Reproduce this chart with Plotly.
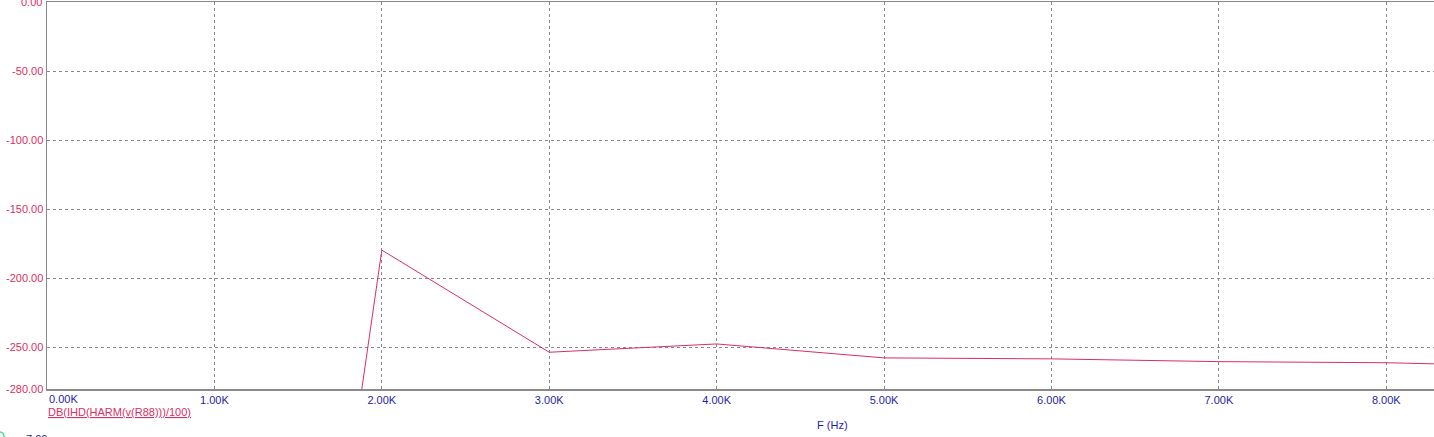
import plotly.graph_objects as go

# Data
freq_hz = [1000, 2000, 3000, 4000, 5000, 6000, 7000, 8000, 9000]
ihd_db = [-1020.0, -179.5, -253.4, -247.4, -257.5, -258.2, -260.2, -261.0, -263.8]

x_tick_vals = [0, 1000, 2000, 3000, 4000, 5000, 6000, 7000, 8000]
x_tick_text = ["0.00K", "1.00K", "2.00K", "3.00K", "4.00K", "5.00K", "6.00K", "7.00K", "8.00K"]
y_tick_vals = [0, -50, -100, -150, -200, -250, -280]
y_tick_text = ["0.00", "-50.00", "-100.00", "-150.00", "-200.00", "-250.00", "-280.00"]

trace_name = "DB(IHD(HARM(v(R88)))/100)"
x_title = "F (Hz)"

RED = "#D9305F"
BLUE = "#1E1EA8"
GRID = "#8A8A8A"
FONT = "Liberation Sans, Arial, sans-serif"

fig = go.Figure()
fig.add_trace(go.Scatter(x=freq_hz, y=ihd_db, mode="lines",
                         line=dict(color=RED, width=1), showlegend=False,
                         hoverinfo="skip"))

W, H = 1434, 437
ML, MR, MT, MB = 47, 0, 2, 48

fig.update_layout(
    width=W, height=H,
    margin=dict(l=ML, r=MR, t=MT, b=MB, pad=0, autoexpand=False),
    paper_bgcolor="white", plot_bgcolor="white",
    font=dict(family=FONT, size=11),
    xaxis=dict(range=[0, 8285], tickvals=x_tick_vals,
               ticktext=[""] + x_tick_text[1:],
               tickfont=dict(color=BLUE, size=11, family=FONT),
               showgrid=True, gridcolor=GRID, griddash="3px,3px", gridwidth=1,
               showline=True, linecolor=GRID, linewidth=1.5, mirror=True,
               zeroline=False, ticks="", ticklen=0, fixedrange=True,
               automargin=False),
    yaxis=dict(range=[-280, 0], tickvals=y_tick_vals,
               ticktext=[""] + y_tick_text[1:],
               tickfont=dict(color=RED, size=11, family=FONT),
               showgrid=True, gridcolor=GRID, griddash="3px,3px", gridwidth=1,
               showline=True, linecolor=GRID, linewidth=1.5,
               zeroline=False, ticks="", ticklen=0, fixedrange=True,
               automargin=False),
)

plot_w = W - ML - MR
plot_h = H - MT - MB

def px_x(px):
    return (px - ML) / plot_w

def px_y(py):
    return 1 - (py - MT) / plot_h

# top y tick label (partly cut off at the top edge, as in the reference)
fig.add_annotation(x=px_x(44), xref="paper", y=y_tick_vals[0], yref="y",
                   text=y_tick_text[0], showarrow=False, xanchor="right", yanchor="middle",
                   font=dict(color=RED, size=11, family=FONT))

# first x tick label is left-aligned at the axis start
fig.add_annotation(x=x_tick_vals[0], xref="x", y=px_y(391), yref="paper",
                   text=x_tick_text[0], showarrow=False, xanchor="left", yanchor="top",
                   font=dict(color=BLUE, size=11, family=FONT))

# trace label (underlined)
fig.add_annotation(x=px_x(46), xref="paper", y=px_y(404), yref="paper",
                   text="<u>" + trace_name + "</u>", showarrow=False,
                   xanchor="left", yanchor="top",
                   font=dict(color=RED, size=11, family=FONT))

# axis title
fig.add_annotation(x=px_x(832), xref="paper", y=px_y(417), yref="paper",
                   text=x_title, showarrow=False, xanchor="center", yanchor="top",
                   font=dict(color=BLUE, size=11, family=FONT))

# clipped label from the chart below
fig.add_annotation(x=px_x(24), xref="paper", y=px_y(431), yref="paper",
                   text="7.00", showarrow=False, xanchor="left", yanchor="top",
                   font=dict(color=BLUE, size=11, family=FONT))
fig.add_shape(type="circle", xref="paper", yref="paper",
              x0=px_x(-4), x1=px_x(4), y0=px_y(441), y1=px_y(432),
              line=dict(color="#40E080", width=1.5))

fig.write_html("out.html",
               config={"displayModeBar": False, "staticPlot": True},
               post_script="document.body.style.margin='0';document.body.style.overflow='hidden';")
